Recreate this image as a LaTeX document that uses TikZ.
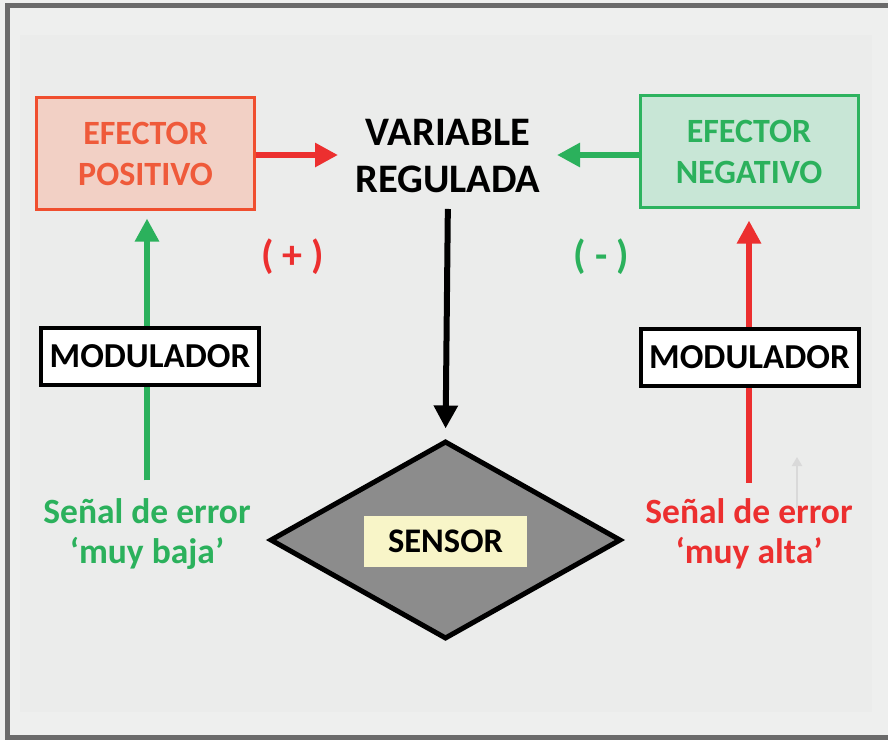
\documentclass[tikz,border=0pt]{standalone}
\usepackage{fontspec}
\setmainfont{Carlito}
\usetikzlibrary{arrows.meta,shapes.geometric}

\definecolor{bgOut}{HTML}{EEEFEE}
\definecolor{bgIn}{HTML}{EBECEB}
\definecolor{frameC}{HTML}{6A6A6A}
\definecolor{posB}{HTML}{F04E2E}
\definecolor{posF}{HTML}{F2D0C5}
\definecolor{posT}{HTML}{EF5A3A}
\definecolor{negB}{HTML}{2DB35F}
\definecolor{negF}{HTML}{C8E6D6}
\definecolor{grn}{HTML}{2BB15C}
\definecolor{rd}{HTML}{EC2F2F}
\definecolor{sensG}{HTML}{8C8C8C}
\definecolor{sensY}{HTML}{F8F5C8}
\definecolor{faint}{HTML}{D9D9D9}

\tikzset{
  effbox/.style={rectangle, line width=3pt, minimum width=218pt, minimum height=112pt,
    inner sep=0pt, align=center, font=\fontsize{34}{41}\selectfont\bfseries},
  modbox/.style={rectangle, draw=black, line width=4pt, fill=white, minimum width=218pt,
    minimum height=57pt, inner sep=0pt, font=\fontsize{35}{40}\selectfont\bfseries},
  errlabel/.style={align=center, inner sep=0pt, font=\fontsize{35.5}{40}\selectfont\bfseries},
  signlabel/.style={inner sep=0pt, font=\fontsize{40}{44}\selectfont\bfseries},
  flow/.style={line width=6pt, -{Triangle[length=23pt,width=23pt]}},
}

\begin{document}
\begin{tikzpicture}[x=1pt,y=-1pt]
  % canvas and frame
  \useasboundingbox (0,0) rectangle (888,740);
  \fill[bgOut] (0,0) rectangle (888,740);
  \fill[bgIn] (20,35) rectangle (872,712);
  \draw[frameC, line width=5pt] (7.5,5.5) rectangle (896,737.5);

  % effectors and regulated variable
  \node[effbox, draw=posB, fill=posF, text=posT] (ep) at (145.5,153.5) {EFECTOR\\POSITIVO};
  \node[effbox, draw=negB, fill=negF, text=grn] (en) at (749,151.5) {EFECTOR\\NEGATIVO};
  \node[align=center, inner sep=0pt, font=\fontsize{40.5}{47}\selectfont\bfseries] (vr) at (448,156) {VARIABLE\\REGULADA};

  % sensor
  \node[diamond, draw=black, line width=5pt, fill=sensG, minimum width=351pt,
        minimum height=198pt, inner sep=0pt] (dm) at (445.5,540) {};
  \node[fill=sensY, minimum width=163pt, minimum height=51pt, inner sep=0pt,
        font=\fontsize{34.5}{38}\selectfont\bfseries] (sn) at (445.5,541.5) {SENSOR};

  % error signals and signs
  \node[errlabel, text=grn] (el) at (147,534) {Señal de error\\‘muy baja’};
  \node[errlabel, text=rd] (er) at (749,534) {Señal de error\\‘muy alta’};
  \node[signlabel, text=rd] (pl) at (292.5,257) {( + )};
  \node[signlabel, text=grn] (mn) at (601.5,257) {( - )};

  % arrow ends at the regulated variable
  \coordinate (vrL) at (338,155);
  \coordinate (vrR) at (557,155);

  % connectors
  \draw[flow, rd] (ep.east |- vrL) -- (vrL);
  \draw[flow, grn] (en.west |- vrR) -- (vrR);
  \draw[flow, black, shorten <=16pt, shorten >=10pt] (vr.south) -- (dm.north);
  \draw[flow, grn, shorten <=18pt, shorten >=7.5pt] (el.north) -- (el.north |- ep.south);
  \draw[flow, rd, shorten <=16pt, shorten >=11.5pt] (er.north) -- (er.north |- en.south);

  % faint trace beside the right signal
  \coordinate (fa) at (797,508);
  \coordinate (fb) at (797,457);
  \draw[faint, line width=2pt, -{Triangle[length=9pt,width=10pt]}] (fa) -- (fb);

  % modulators on top of the vertical arrows
  \node[modbox] (ml) at (150,356.5) {MODULADOR};
  \node[modbox] (mr) at (749.5,357.5) {MODULADOR};
\end{tikzpicture}
\end{document}
